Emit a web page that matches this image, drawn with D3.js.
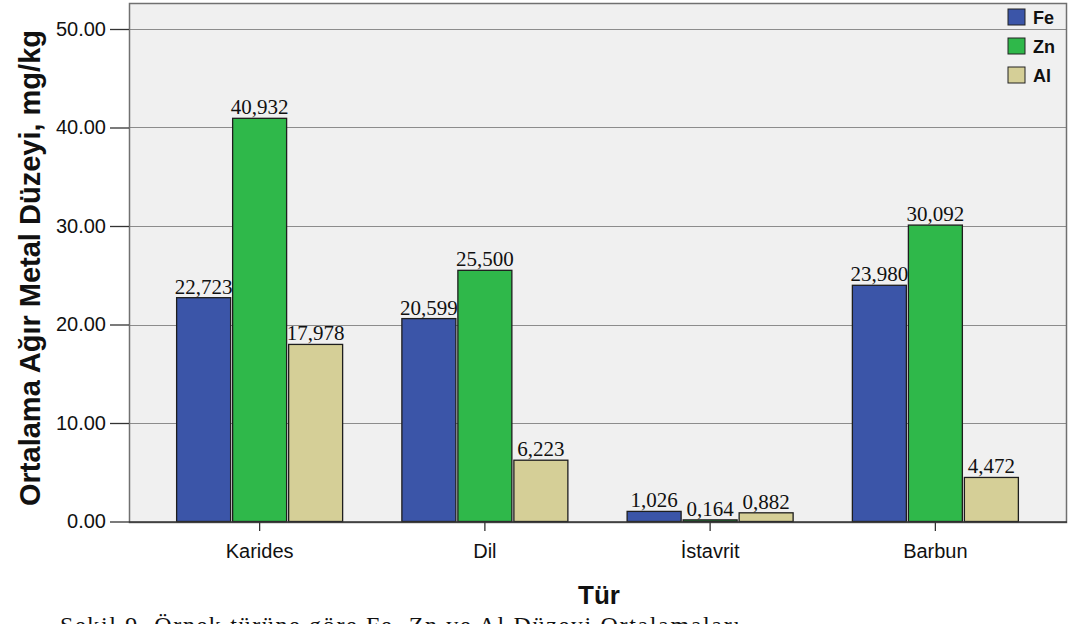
<!DOCTYPE html>
<html>
<head>
<meta charset="utf-8">
<script src="https://cdn.jsdelivr.net/npm/d3@7"></script>
<style>
  body { margin: 0; background: #fff; }
  svg { display: block; }
</style>
</head>
<body>
<div id="chart"></div>
<script>
const categories = ['Karides', 'Dil', 'İstavrit', 'Barbun']
const seriesNames = ['Fe', 'Zn', 'Al']
const feValues = [22.723, 20.599, 1.026, 23.980]
const znValues = [40.932, 25.500, 0.164, 30.092]
const alValues = [17.978, 6.223, 0.882, 4.472]
const yTicks = [0, 10, 20, 30, 40, 50]
const colors = ['#3b55a8', '#2fb84a', '#d5cf97']

const width = 1075
const height = 624
const plot = { left: 129, right: 1067, top: 3, bottom: 522 }

const series = [feValues, znValues, alValues]
const rows = categories.map((c, i) => ({
  cat: c,
  values: seriesNames.map((s, j) => ({ key: s, value: series[j][i], idx: j }))
}))

const svg = d3.select('#chart').append('svg')
  .attr('width', width)
  .attr('height', height)

const yScale = d3.scaleLinear()
  .domain([0, 50])
  .range([521.5, 29])

const x0 = d3.scaleBand()
  .domain(categories)
  .range([147, 1048])
  .padding(0)

const groupWidth = 166
const x1 = d3.scaleBand()
  .domain(seriesNames)
  .range([0, groupWidth])
  .paddingInner(0.036)

// plot background
svg.append('rect')
  .attr('x', plot.left)
  .attr('y', plot.top)
  .attr('width', plot.right - plot.left)
  .attr('height', plot.bottom - plot.top)
  .attr('fill', '#f0f0f0')

// grid lines
svg.append('g')
  .selectAll('line')
  .data(yTicks.filter(d => d > 0))
  .join('line')
    .attr('x1', plot.left)
    .attr('x2', plot.right)
    .attr('y1', d => Math.round(yScale(d)) + 0.5)
    .attr('y2', d => Math.round(yScale(d)) + 0.5)
    .attr('stroke', '#8c8c8c')
    .attr('stroke-width', 1.2)

// frame
svg.append('rect')
  .attr('x', plot.left + 0.5)
  .attr('y', plot.top + 0.5)
  .attr('width', plot.right - plot.left - 1)
  .attr('height', plot.bottom - plot.top)
  .attr('fill', 'none')
  .attr('stroke', '#707070')
  .attr('stroke-width', 1.5)

// bars
const groups = svg.append('g')
  .selectAll('g')
  .data(rows)
  .join('g')
    .attr('transform', d => `translate(${x0(d.cat) + (x0.bandwidth() - groupWidth) / 2},0)`)

groups.selectAll('rect')
  .data(d => d.values)
  .join('rect')
    .attr('x', d => x1(d.key))
    .attr('y', d => yScale(d.value))
    .attr('width', x1.bandwidth())
    .attr('height', d => yScale(0) - yScale(d.value))
    .attr('fill', d => colors[d.idx])
    .attr('stroke', '#1e1e1e')
    .attr('stroke-width', 1.3)

const fmt = v => d3.format('.3f')(v).replace('.', ',')

groups.selectAll('text')
  .data(d => d.values)
  .join('text')
    .attr('x', d => x1(d.key) + x1.bandwidth() / 2)
    .attr('y', d => yScale(d.value) - 4)
    .attr('text-anchor', 'middle')
    .attr('font-family', '"Liberation Serif", "Times New Roman", serif')
    .attr('font-size', 21)
    .attr('fill', '#111')
    .text(d => fmt(d.value))

// y axis
const yAxis = svg.append('g')
  .attr('transform', `translate(${plot.left},0)`)
  .call(d3.axisLeft(yScale).tickValues(yTicks).tickFormat(d3.format('.2f')).tickSize(19).tickPadding(4))
yAxis.select('.domain').remove()
yAxis.selectAll('line').attr('stroke', '#333').attr('stroke-width', 1.3)
yAxis.selectAll('text')
  .attr('font-family', '"Liberation Sans", Arial, sans-serif')
  .attr('font-size', 20)
  .attr('fill', '#111')

// baseline across plot
svg.append('line')
  .attr('x1', plot.left)
  .attr('x2', plot.right)
  .attr('y1', plot.bottom)
  .attr('y2', plot.bottom)
  .attr('stroke', '#333')
  .attr('stroke-width', 1.3)

// x axis
const xAxis = svg.append('g')
  .attr('transform', `translate(0,${plot.bottom})`)
  .call(d3.axisBottom(x0).tickSize(9).tickPadding(13))
xAxis.select('.domain').remove()
xAxis.selectAll('line').attr('stroke', '#333').attr('stroke-width', 1.3)
xAxis.selectAll('text')
  .attr('font-family', '"Liberation Sans", Arial, sans-serif')
  .attr('font-size', 20)
  .attr('fill', '#111')

// axis titles
svg.append('text')
  .attr('transform', 'translate(40,268) rotate(-90)')
  .attr('text-anchor', 'middle')
  .attr('font-family', '"Liberation Sans", Arial, sans-serif')
  .attr('font-weight', 'bold')
  .attr('font-size', 29)
  .attr('fill', '#111')
  .text('Ortalama Ağır Metal Düzeyi, mg/kg')

svg.append('text')
  .attr('x', 599)
  .attr('y', 604)
  .attr('text-anchor', 'middle')
  .attr('font-family', '"Liberation Sans", Arial, sans-serif')
  .attr('font-weight', 'bold')
  .attr('font-size', 26)
  .attr('fill', '#111')
  .text('Tür')

// legend
const legend = svg.append('g')
  .selectAll('g')
  .data(seriesNames)
  .join('g')
    .attr('transform', (d, i) => `translate(1008,${9 + i * 29})`)

legend.append('rect')
  .attr('width', 17)
  .attr('height', 16)
  .attr('fill', (d, i) => colors[i])
  .attr('stroke', '#222')
  .attr('stroke-width', 1)

legend.append('text')
  .attr('x', 25)
  .attr('y', 15)
  .attr('font-family', '"Liberation Sans", Arial, sans-serif')
  .attr('font-weight', 'bold')
  .attr('font-size', 18)
  .attr('fill', '#111')
  .text(d => d)

// caption, cut off by the page edge as in the source
svg.append('text')
  .attr('x', 60)
  .attr('y', 633)
  .attr('font-family', '"Liberation Serif", "Times New Roman", serif')
  .attr('font-size', 24)
  .attr('textLength', 680)
  .attr('lengthAdjust', 'spacing')
  .attr('fill', '#111')
  .text('Şekil 9. Örnek türüne göre Fe, Zn ve Al Düzeyi Ortalamaları')
</script>
</body>
</html>
